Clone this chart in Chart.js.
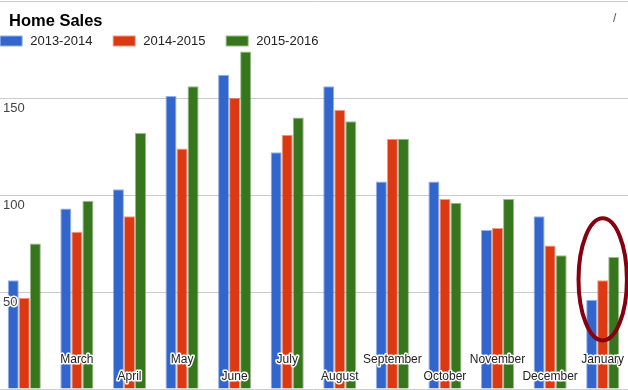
<!DOCTYPE html>
<html>
<head>
<meta charset="utf-8">
<title>Home Sales</title>
<script src="https://cdn.jsdelivr.net/npm/chart.js@4.4.1/dist/chart.umd.min.js"></script>
<style>
  html, body { margin: 0; padding: 0; background: #fff; overflow: hidden; width: 628px; height: 390px; }
  #wrap { position: absolute; left: -2px; top: 0; width: 631px; height: 390px; }
</style>
</head>
<body>
<div id="wrap"><canvas id="salesChart" width="631" height="390"></canvas></div>
<script>
// Datos del gráfico
const months = ['February', 'March', 'April', 'May', 'June', 'July', 'August',
                'September', 'October', 'November', 'December', 'January'];
const sales2013 = [56, 93, 103, 151, 162, 122, 156, 107, 107, 82, 89, 46];
const sales2014 = [47, 81, 89, 124, 150, 131, 144, 129, 98, 83, 74, 56];
const sales2015 = [75, 97, 132, 156, 174, 140, 138, 129, 96, 98, 69, 68];
const seriesNames = ['2013-2014', '2014-2015', '2015-2016'];
const seriesColors = ['#3366cc', '#dc3912', '#38761d'];
const yTicks = [50, 100, 150];
const highlightMonth = 'January';

const OFFSET = 2; // canvas desplazado 2px a la izquierda
const FONT = 'Arial, "Liberation Sans", sans-serif';

function haloText(ctx, text, x, y) {
    ctx.strokeText(text, x, y);
    ctx.fillText(text, x, y);
}

// Etiquetas, leyenda, título y círculo dibujados encima
const overlayPlugin = {
    id: 'overlay',
    afterDatasetsDraw(chart) {
        const ctx = chart.ctx;
        const xs = chart.scales.x;
        const ys = chart.scales.y;
        ctx.save();
        ctx.lineJoin = 'round';
        ctx.strokeStyle = '#fff';
        ctx.lineWidth = 3;

        // etiquetas del eje Y (dentro del gráfico, bajo la línea)
        ctx.font = '13px ' + FONT;
        ctx.fillStyle = '#444';
        ctx.textAlign = 'left';
        ctx.textBaseline = 'middle';
        yTicks.forEach(v => haloText(ctx, String(v), 3 + OFFSET, ys.getPixelForValue(v) + 10));

        // etiquetas de meses, alternadas en dos filas
        ctx.font = '12px ' + FONT;
        ctx.fillStyle = '#222';
        ctx.textAlign = 'center';
        months.forEach((m, i) => {
            const x = xs.getPixelForValue(i);
            const w = ctx.measureText(m).width;
            if (x - w / 2 < OFFSET + 5) return; // no cabe: se oculta
            const y = (i % 2 === 1) ? 360 : 377;
            haloText(ctx, m, x, y);
        });

        // elipse roja alrededor del mes destacado
        const hi = months.indexOf(highlightMonth);
        const cx = xs.getPixelForValue(hi);
        const top = ys.getPixelForValue(88);
        const bottom = ys.getPixelForValue(25);
        const rx = (xs.width / months.length) * 0.46;
        ctx.beginPath();
        ctx.ellipse(cx, (top + bottom) / 2, rx, (bottom - top) / 2, 0, 0, Math.PI * 2);
        ctx.strokeStyle = '#850010';
        ctx.lineWidth = 4;
        ctx.stroke();
        ctx.restore();
    },
    afterDraw(chart) {
        const ctx = chart.ctx;
        ctx.save();
        // título
        ctx.font = 'bold 16.5px ' + FONT;
        ctx.fillStyle = '#000';
        ctx.textAlign = 'left';
        ctx.textBaseline = 'alphabetic';
        ctx.fillText('Home Sales', 9 + OFFSET, 26);

        // leyenda
        ctx.font = '13px ' + FONT;
        ctx.textBaseline = 'middle';
        chart.data.datasets.forEach((ds, i) => {
            const bx = -0.3 + 113 * i + OFFSET;
            ctx.fillStyle = ds.borderColor;
            ctx.fillRect(bx, 35.5, 23, 11);
            ctx.fillStyle = ds.backgroundColor;
            ctx.fillRect(bx + 1, 36.5, 21, 9);
            ctx.fillStyle = '#222';
            ctx.fillText(ds.label, bx + 30.5, 41.5);
        });

        // pequeño icono en la esquina
        ctx.font = '12px ' + FONT;
        ctx.fillStyle = '#555';
        ctx.fillText('/', 613 + OFFSET, 19);
        ctx.restore();
    }
};

const seriesData = [sales2013, sales2014, sales2015];
const ctxSales = document.getElementById('salesChart').getContext('2d');
new Chart(ctxSales, {
    type: 'bar',
    data: {
        labels: months,
        datasets: seriesData.map((d, i) => ({
            label: seriesNames[i],
            data: d,
            backgroundColor: seriesColors[i],
            borderColor: seriesColors[i] + '80',
            borderWidth: 1,
            borderSkipped: 'start',
            categoryPercentage: 0.63,
            barPercentage: 1
        }))
    },
    options: {
        responsive: false,
        animation: false,
        devicePixelRatio: 1,
        layout: { padding: { top: 1, bottom: 1, left: 0, right: 0 } },
        plugins: {
            legend: { display: false },
            title: { display: false },
            tooltip: { enabled: false }
        },
        scales: {
            x: { display: false },
            y: {
                min: 0,
                max: 200,
                ticks: { display: false, stepSize: 50 },
                grid: { color: '#cccccc', drawTicks: false, lineWidth: 1 },
                border: { display: false }
            }
        }
    },
    plugins: [overlayPlugin]
});
</script>
</body>
</html>
